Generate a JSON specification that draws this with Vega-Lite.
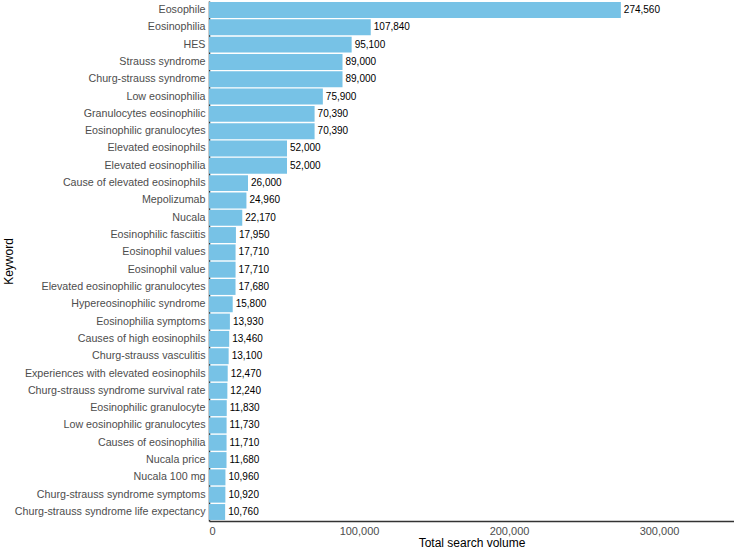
{
  "$schema": "https://vega.github.io/schema/vega-lite/v6.json",
  "width": 525,
  "height": 520,
  "autosize": {"type": "none"},
  "padding": {"left": 209, "top": 1, "right": 0, "bottom": 30},
  "background": "white",
  "config": {
    "view": {"stroke": null},
    "font": "Liberation Sans",
    "axis": {"grid": false, "domainColor": "#333333", "domainWidth": 1.5, "labelColor": "#4d4d4d", "labelFontSize": 11, "titleFontSize": 12, "titleFontWeight": "normal", "titleColor": "#000000", "ticks": false, "labelLimit": 400}
  },
  "data": {
    "values": [
      {"keyword": "Eosophile", "volume": 274560},
      {"keyword": "Eosinophilia", "volume": 107840},
      {"keyword": "HES", "volume": 95100},
      {"keyword": "Strauss syndrome", "volume": 89000},
      {"keyword": "Churg-strauss syndrome", "volume": 89000},
      {"keyword": "Low eosinophilia", "volume": 75900},
      {"keyword": "Granulocytes eosinophilic", "volume": 70390},
      {"keyword": "Eosinophilic granulocytes", "volume": 70390},
      {"keyword": "Elevated eosinophils", "volume": 52000},
      {"keyword": "Elevated eosinophilia", "volume": 52000},
      {"keyword": "Cause of elevated eosinophils", "volume": 26000},
      {"keyword": "Mepolizumab", "volume": 24960},
      {"keyword": "Nucala", "volume": 22170},
      {"keyword": "Eosinophilic fasciitis", "volume": 17950},
      {"keyword": "Eosinophil values", "volume": 17710},
      {"keyword": "Eosinophil value", "volume": 17710},
      {"keyword": "Elevated eosinophilic granulocytes", "volume": 17680},
      {"keyword": "Hypereosinophilic syndrome", "volume": 15800},
      {"keyword": "Eosinophilia symptoms", "volume": 13930},
      {"keyword": "Causes of high eosinophils", "volume": 13460},
      {"keyword": "Churg-strauss vasculitis", "volume": 13100},
      {"keyword": "Experiences with elevated eosinophils", "volume": 12470},
      {"keyword": "Churg-strauss syndrome survival rate", "volume": 12240},
      {"keyword": "Eosinophilic granulocyte", "volume": 11830},
      {"keyword": "Low eosinophilic granulocytes", "volume": 11730},
      {"keyword": "Causes of eosinophilia", "volume": 11710},
      {"keyword": "Nucala price", "volume": 11680},
      {"keyword": "Nucala 100 mg", "volume": 10960},
      {"keyword": "Churg-strauss syndrome symptoms", "volume": 10920},
      {"keyword": "Churg-strauss syndrome life expectancy", "volume": 10760}
    ]
  },
  "encoding": {
    "y": {"field": "keyword", "type": "nominal", "sort": null, "title": "Keyword",
          "scale": {"paddingInner": 0.08, "paddingOuter": 0.06},
          "axis": {"labelPadding": 4, "labelFontSize": 10.7, "titleX": -201, "titleY": 260, "titleAngle": -90, "titleBaseline": "middle", "titleAlign": "center"}},
    "x": {"field": "volume", "type": "quantitative", "title": "Total search volume",
          "scale": {"domain": [0, 350000], "nice": false},
          "axis": {"values": [0, 100000, 200000, 300000], "format": ",.0f", "labelPadding": 4, "titlePadding": 1}}
  },
  "layer": [
    {"mark": {"type": "bar", "color": "#77c2e6"}},
    {"mark": {"type": "text", "align": "left", "dx": 3, "fontSize": 10, "color": "#000000"},
     "encoding": {"text": {"field": "volume", "type": "quantitative", "format": ","}}}
  ]
}
